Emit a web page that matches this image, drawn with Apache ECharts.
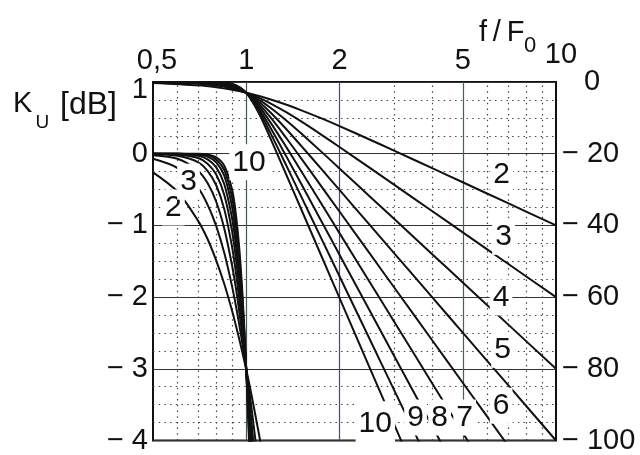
<!DOCTYPE html>
<html>
<head>
<meta charset="utf-8">
<script src="https://cdn.jsdelivr.net/npm/echarts@6/dist/echarts.min.js"></script>
<style>
  html, body { margin: 0; padding: 0; background: #ffffff; }
  #chart { width: 640px; height: 455px; }
</style>
</head>
<body>
<div id="chart"></div>
<script>
// Butterworth low-pass responses of order 2..10, f/F0 on a log axis.
// Upper family: passband detail on the left scale (dB, 1 .. -4).
// Lower family: stopband on the right scale (dB, 0 .. -100).

const orders = [2, 3, 4, 5, 6, 7, 8, 9, 10];

// passband detail, left scale
const passFreq = [0.5, 0.6, 0.7, 0.75, 0.8, 0.85, 0.9, 0.925, 0.95, 0.975, 1.0, 1.025, 1.05, 1.1, 1.15];
const passN2  = [-0.26, -0.53, -0.94, -1.19, -1.49, -1.82, -2.19, -2.39, -2.59, -2.80, -3.01, -3.23, -3.46, -3.92, -4.39];
const passN3  = [-0.07, -0.20, -0.48, -0.71, -1.01, -1.39, -1.85, -2.11, -2.39, -2.69, -3.01, -3.34, -3.69, -4.43];
const passN4  = [-0.02, -0.07, -0.24, -0.41, -0.67, -1.05, -1.56, -1.86, -2.21, -2.59, -3.01, -3.46, -3.94, -4.97];
const passN5  = [0, -0.03, -0.12, -0.24, -0.44, -0.78, -1.30, -1.64, -2.04, -2.50, -3.01, -3.58, -4.20];
const passN6  = [0, -0.01, -0.06, -0.14, -0.29, -0.58, -1.08, -1.44, -1.88, -2.40, -3.01, -3.70, -4.47];
const passN7  = [0, 0, -0.03, -0.08, -0.19, -0.43, -0.90, -1.26, -1.73, -2.31, -3.01, -3.83, -4.74];
const passN8  = [0, 0, -0.01, -0.04, -0.12, -0.31, -0.74, -1.10, -1.58, -2.22, -3.01, -3.95, -5.03];
const passN9  = [0, 0, -0.01, -0.02, -0.08, -0.23, -0.61, -0.96, -1.45, -2.13, -3.01, -4.08, -5.32];
const passN10 = [0, 0, 0, -0.01, -0.05, -0.17, -0.50, -0.83, -1.33, -2.05, -3.01, -4.21, -5.63];

// stopband, right scale
const stopFreq = [0.5, 0.7, 0.8, 0.9, 1.0, 1.1, 1.2, 1.35, 1.5, 1.75, 2, 2.5, 3, 4, 5, 7, 10];
const stopN2  = [-0.26, -0.94, -1.49, -2.19, -3.01, -3.92, -4.88, -6.36, -7.83, -10.16, -12.30, -16.03, -19.14, -24.10, -27.97, -33.81, -40.00];
const stopN3  = [-0.07, -0.48, -1.01, -1.85, -3.01, -4.43, -6.01, -8.48, -10.93, -14.73, -18.13, -23.89, -28.63, -36.13, -41.94, -50.71, -60.00];
const stopN4  = [-0.02, -0.24, -0.67, -1.56, -3.01, -4.97, -7.24, -10.80, -14.25, -19.49, -24.10, -31.84, -38.17, -48.17, -55.92, -67.61, -80.00];
const stopN5  = [0, -0.12, -0.44, -1.30, -3.01, -5.56, -8.57, -13.24, -17.68, -24.32, -30.11, -39.79, -47.71, -60.21, -69.90, -84.51, -100.00];
const stopN6  = [0, -0.06, -0.29, -1.08, -3.01, -6.17, -9.96, -15.76, -21.16, -29.17, -36.13, -47.75, -57.26, -72.25, -83.88, -101.41];
const stopN7  = [0, -0.03, -0.19, -0.90, -3.01, -6.81, -11.41, -18.31, -24.67, -34.03, -42.15, -55.71, -66.80, -84.29, -97.86, -118.31];
const stopN8  = [0, -0.01, -0.12, -0.74, -3.01, -7.48, -12.90, -20.89, -28.18, -38.89, -48.17, -63.67, -76.34, -96.33, -111.84];
const stopN9  = [0, -0.01, -0.08, -0.61, -3.01, -8.17, -14.41, -23.48, -31.70, -43.75, -54.19, -71.63, -85.88, -108.37];
const stopN10 = [0, 0, -0.05, -0.50, -3.01, -8.88, -15.95, -26.08, -35.22, -48.61, -60.21, -79.59, -95.42, -120.41];

// axis ticks
const freqTicks = [0.5, 1, 2, 5, 10];
const solidFreqs = [1, 2, 5];
const dottedFreqs = [0.6, 0.7, 0.8, 0.9, 3, 4, 6, 7, 8, 9];

// where the order numbers sit: [order, f/F0, dB]
const passLabelSpots = [[10, 1.021, -0.12], [3, 0.651, -0.39], [2, 0.582, -0.75]];
const stopLabelSpots = [[2, 6.67, -26.0], [3, 6.77, -43.2], [4, 6.65, -60.1], [5, 6.72, -74.7],
                        [6, 6.65, -90.3], [7, 5.07, -93.6], [8, 4.21, -93.6], [9, 3.52, -93.6], [10, 2.61, -95.3]];

const passSets = [passN2, passN3, passN4, passN5, passN6, passN7, passN8, passN9, passN10];
const stopSets = [stopN2, stopN3, stopN4, stopN5, stopN6, stopN7, stopN8, stopN9, stopN10];

const FONT = "'Liberation Sans', Arial, Helvetica, sans-serif";
const INK = '#111';

function pairs(xs, ys) {
  const out = [];
  for (let i = 0; i < Math.min(xs.length, ys.length); i++) out.push([xs[i], ys[i]]);
  return out;
}

// order number with a white box that masks the lines behind it
function orderMark(spots, n, pad) {
  const hit = spots.filter(s => s[0] === n);
  if (!hit.length) return undefined;
  return {
    silent: true,
    symbol: 'rect',
    symbolSize: 1,
    itemStyle: { color: 'rgba(0,0,0,0)' },
    label: {
      show: true,
      position: 'inside',
      formatter: String(n),
      fontFamily: FONT,
      fontSize: 30,
      color: INK,
      backgroundColor: '#ffffff',
      padding: pad || [3, 3, 3, 3]
    },
    data: hit.map(s => ({ coord: [s[1], s[2]] }))
  };
}

const curveStyle = { color: INK, width: 2 };

const series = [];

// grid lines at the frequency marks
series.push({
  type: 'line',
  xAxisIndex: 0,
  yAxisIndex: 0,
  data: [],
  silent: true,
  markLine: {
    silent: true,
    z: 1,
    symbol: 'none',
    label: { show: false },
    data: solidFreqs.map((f, i) => ({
      xAxis: f,
      lineStyle: { color: ['#3d5c49', '#4d4a6e', '#4a5f55'][i], width: 1.2, type: 'solid' }
    })).concat(dottedFreqs.map(f => ({
      xAxis: f,
      lineStyle: { color: '#444', width: 1.2, type: [1.5, 4.2] }
    })))
  }
});

orders.forEach((n, i) => {
  series.push({
    type: 'line',
    name: 'pass' + n,
    xAxisIndex: 0,
    yAxisIndex: 0,
    data: pairs(passFreq, passSets[i]),
    showSymbol: false,
    smooth: 0.3,
    clip: true,
    z: 2,
    lineStyle: curveStyle,
    markPoint: orderMark(passLabelSpots, n)
  });
});

orders.forEach((n, i) => {
  series.push({
    type: 'line',
    name: 'stop' + n,
    xAxisIndex: 0,
    yAxisIndex: 1,
    data: pairs(stopFreq, stopSets[i]),
    showSymbol: false,
    smooth: 0.3,
    clip: true,
    z: 2,
    lineStyle: curveStyle,
    markPoint: orderMark(stopLabelSpots, n, n === 10 ? [3, 3, 12, 3] : null)
  });
});

const tickText = { fontFamily: FONT, fontSize: 29, color: INK };

const option = {
  animation: false,
  backgroundColor: '#ffffff',
  grid: {
    left: 153, top: 82, right: 84, bottom: 12,
    show: true,
    borderColor: INK,
    borderWidth: 2,
    backgroundColor: '#ffffff'
  },
  xAxis: [{
    type: 'log',
    logBase: 10,
    min: 0.5,
    max: 10,
    position: 'top',
    axisLine: { show: false },
    axisTick: { show: false },
    splitLine: { show: false },
    axisLabel: Object.assign({}, tickText, {
      customValues: freqTicks,
      margin: 7,
      showMinLabel: true,
      showMaxLabel: true,
      hideOverlap: false,
      formatter: function (v) {
        if (Math.abs(v - 0.5) < 1e-6) return '{a|0,5}';
        if (Math.abs(v - 10) < 1e-6) return '{b|10}';
        return String(Math.round(v));
      },
      rich: {
        a: Object.assign({}, tickText, { padding: [0, 0, 0, 8] }),
        b: Object.assign({}, tickText, { padding: [0, 0, 6, 10] })
      }
    })
  }],
  yAxis: [{
    type: 'value',
    position: 'left',
    min: -4,
    max: 1,
    interval: 1,
    axisLine: { show: false },
    axisTick: { show: false },
    splitLine: { show: true, lineStyle: { color: '#333', width: 1.2 } },
    minorTick: { show: false, splitNumber: 4 },
    minorSplitLine: { show: true, lineStyle: { color: '#444', width: 1.2, type: [1.5, 4.2] } },
    axisLabel: Object.assign({}, tickText, {
      margin: 5,
      formatter: function (v) {
        if (v === 1) return '{t|1}';
        return v < 0 ? '\u2212 ' + (-v) : String(v);
      },
      rich: { t: Object.assign({}, tickText, { padding: [16, 0, 0, 0] }) }
    })
  }, {
    type: 'value',
    position: 'right',
    min: -100,
    max: 0,
    interval: 20,
    axisLine: { show: false },
    axisTick: { show: false },
    splitLine: { show: false },
    axisLabel: Object.assign({}, tickText, {
      margin: 6,
      formatter: function (v) {
        if (v === 0) return '{z|0}';
        return '\u2212 ' + (-v);
      },
      rich: { z: Object.assign({}, tickText, { padding: [0, 0, 0, 22] }) }
    })
  }],
  graphic: [
    { type: 'text', x: 13, y: 104, style: { text: 'K', fontFamily: FONT, fontSize: 29, fill: INK, align: 'left', verticalAlign: 'middle' } },
    { type: 'text', x: 35.5, y: 123, style: { text: 'U', fontFamily: FONT, fontSize: 19, fill: INK, align: 'left', verticalAlign: 'middle' } },
    { type: 'text', x: 60, y: 105, style: { text: '[dB]', fontFamily: FONT, fontSize: 32, fill: INK, align: 'left', verticalAlign: 'middle' } },
    { type: 'text', x: 479, y: 33, style: { text: 'f\u2009/\u2009F', fontFamily: FONT, fontSize: 29, fill: INK, align: 'left', verticalAlign: 'middle' } },
    { type: 'text', x: 524, y: 46, style: { text: '0', fontFamily: FONT, fontSize: 22, fill: INK, align: 'left', verticalAlign: 'middle' } }
  ],
  series: series
};

const chart = echarts.init(document.getElementById('chart'), null, { renderer: 'canvas' });
chart.setOption(option);
</script>
</body>
</html>
